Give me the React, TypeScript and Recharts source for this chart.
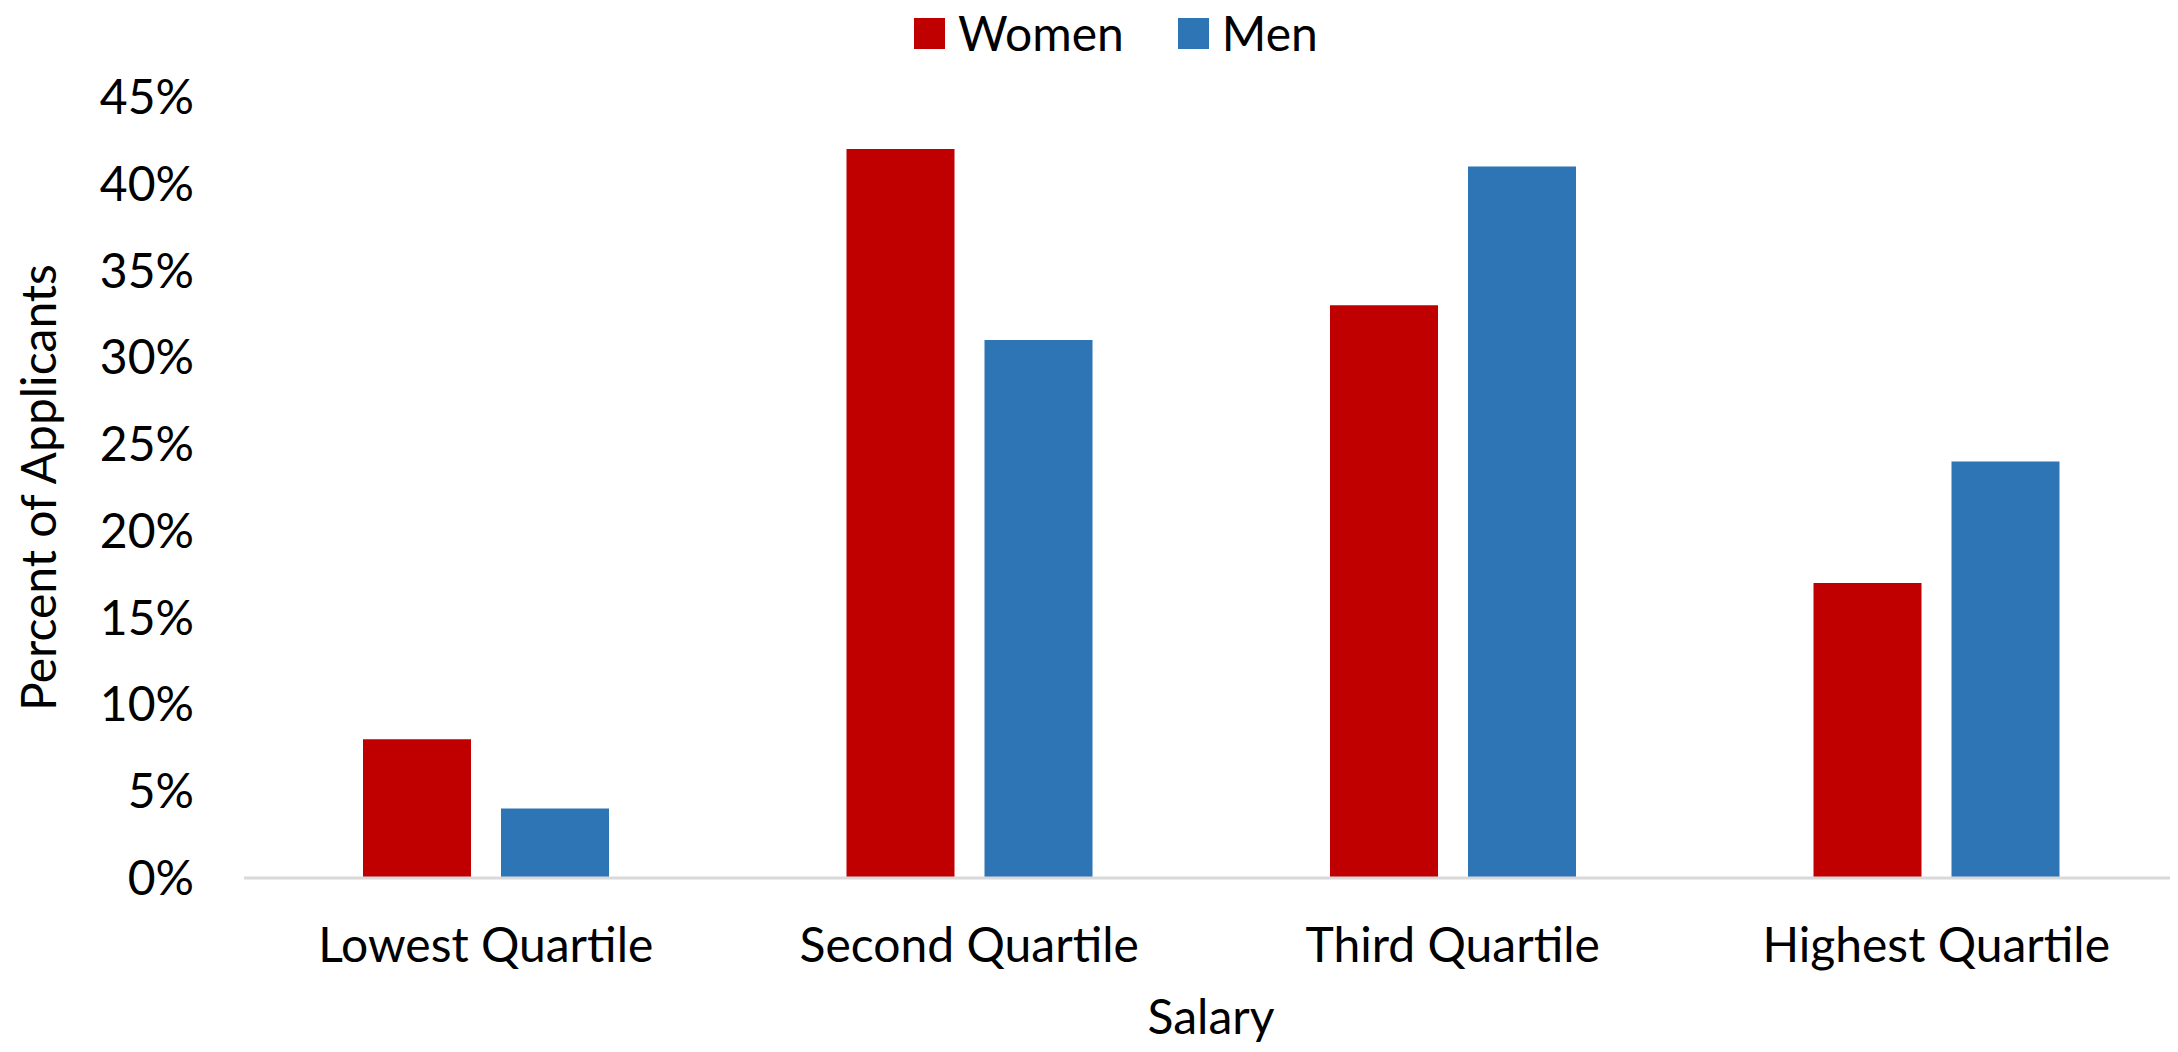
import React from 'react'
import { Bar, BarChart, Label, XAxis, YAxis } from 'recharts'

const categories = ['Lowest Quartile', 'Second Quartile', 'Third Quartile', 'Highest Quartile']
const women = [8, 42, 33, 17]
const men = [4, 31, 41, 24]
const yTicks = [0, 5, 10, 15, 20, 25, 30, 35, 40, 45]

const data = categories.map((name, i) => ({ name, women: women[i], men: men[i] }))

const FONT = 'Lato, "Open Sans", sans-serif'
const RED = '#C00000'
const BLUE = '#2E75B6'

function LegendBox() {
  const item = (color: string, text: string, gap: number) => (
    <div style={{ display: 'flex', alignItems: 'center', marginRight: gap }}>
      <div style={{ width: 31, height: 31, background: color, marginRight: 13 }} />
      <span style={{ fontSize: 48, lineHeight: '48px' }}>{text}</span>
    </div>
  )
  return (
    <div
      style={{
        position: 'absolute',
        top: 1,
        left: 906,
        display: 'flex',
        fontFamily: FONT,
        color: '#000',
      }}
    >
      {item(RED, 'Women', 54)}
      {item(BLUE, 'Men', 0)}
    </div>
  )
}

export default function App() {
  return (
    <div style={{ position: 'relative', width: 2170, height: 1044, fontFamily: FONT }}>
      <BarChart
        width={2170}
        height={1044}
        data={data}
        margin={{ top: 89, right: 0, bottom: 0, left: 0 }}
        barSize={108}
        barGap={30}
      >
        <XAxis
          dataKey="name"
          height={174}
          tickLine={false}
          tickSize={0}
          tickMargin={50}
          axisLine={{ stroke: '#d9d9d9', strokeWidth: 3 }}
          tick={{ fill: '#000', fontSize: 48, fontFamily: FONT }}
        >
          <Label
            value="Salary"
            position="insideBottom"
            offset={18}
            style={{ fill: '#000', fontSize: 48, fontFamily: FONT }}
          />
        </XAxis>
        <YAxis
          width={236}
          domain={[0, 45]}
          ticks={yTicks}
          interval={0}
          tickLine={false}
          axisLine={false}
          tickSize={0}
          tickMargin={50}
          tickFormatter={(v) => `${v}%`}
          tick={{ fill: '#000', fontSize: 48, fontFamily: FONT }}
        >
          <Label
            value="Percent of Applicants"
            angle={-90}
            position="insideLeft"
            offset={31}
            style={{ textAnchor: 'middle', fill: '#000', fontSize: 48, fontFamily: FONT }}
          />
        </YAxis>
        <Bar dataKey="women" name="Women" fill={RED} isAnimationActive={false} />
        <Bar dataKey="men" name="Men" fill={BLUE} isAnimationActive={false} />
      </BarChart>
      <LegendBox />
    </div>
  )
}
